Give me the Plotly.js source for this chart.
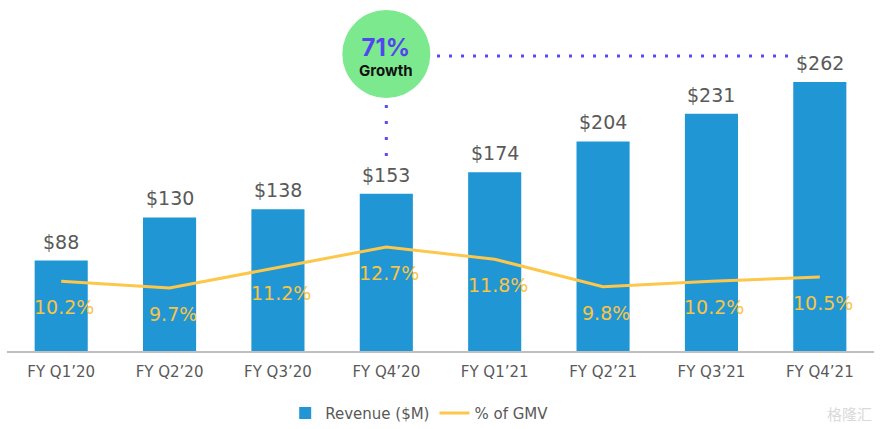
<!DOCTYPE html>
<html>
<head>
<meta charset="utf-8">
<script src="https://cdn.plot.ly/plotly-3.0.1.min.js"></script>
<style>html,body{margin:0;padding:0;background:#fff;}#chart{width:882px;height:429px;}</style>
</head>
<body>
<div id="chart"></div>
<script>
const categories = ["FY Q1\u201920","FY Q2\u201920","FY Q3\u201920","FY Q4\u201920","FY Q1\u201921","FY Q2\u201921","FY Q3\u201921","FY Q4\u201921"];
const revenue = [88, 130, 138, 153, 174, 204, 231, 262];
const revenueLabels = ["$88","$130","$138","$153","$174","$204","$231","$262"];
const gmvPct = [10.2, 9.7, 11.2, 12.7, 11.8, 9.8, 10.2, 10.5];
const gmvLabels = ["10.2%","9.7%","11.2%","12.7%","11.8%","9.8%","10.2%","10.5%"];
const growthText = "71%";
const growthSub = "Growth";

const idx = categories.map((c,i)=>i);

const traces = [
  {
    type: 'bar', name: 'Revenue ($M)', x: idx, y: revenue,
    marker: {color: '#2196d4'}, width: 0.49, hoverinfo: 'skip'
  },
  {
    type: 'scatter', mode: 'lines', name: '% of GMV', x: idx, y: gmvPct, yaxis: 'y2',
    line: {color: '#fcc74b', width: 3}, hoverinfo: 'skip'
  }
];

const annotations = [];
idx.forEach(i => {
  annotations.push({
    x: i, y: revenue[i], xref: 'x', yref: 'y', text: revenueLabels[i], showarrow: false,
    yanchor: 'bottom', yshift: 6, font: {family: 'DejaVu Sans', size: 19, color: '#595959'}
  });
  annotations.push({
    x: i, y: gmvPct[i], xref: 'x', yref: 'y2', text: gmvLabels[i], showarrow: false,
    yanchor: 'middle', yshift: -26, xshift: 3, font: {family: 'DejaVu Sans', size: 19, color: '#f8c446'}
  });
});
annotations.push({
  x: 3, y: (351-57)/341, xref: 'x', yref: 'paper', yanchor: 'middle',
  text: '<b><span style="font-size:24px;color:#5245ef">' + growthText + '</span><br>' + growthSub + '</b>',
  showarrow: false,
  font: {family: 'Inter', size: 15, color: '#111111'}
});
annotations.push({
  x: 1, y: -62/341, xref: 'paper', yref: 'paper', xanchor: 'right', yanchor: 'middle',
  xshift: 0, text: '\u683C\u9686\u6C47', showarrow: false,
  font: {family: 'Noto Sans CJK SC', size: 15, color: '#dadada'}
});

const shapes = [
  { type: 'line', xref: 'paper', yref: 'paper', x0: (437-7)/867, x1: (789-7)/867, y0: (351-56)/341, y1: (351-56)/341,
    line: {color: '#5a4cf2', width: 3, dash: '3px,9px'} },
  { type: 'line', xref: 'x', yref: 'paper', x0: 3, x1: 3,
    y0: (351-156)/341, y1: (351-105)/341,
    line: {color: '#5a4cf2', width: 3, dash: '3px,13px'} },
  { type: 'circle', xref: 'x', yref: 'paper', xsizemode: 'pixel', xanchor: 3, x0: -44, x1: 44,
    ysizemode: 'pixel', yanchor: (351-54)/341, y0: -44, y1: 44,
    fillcolor: '#7de98f', line: {width: 0}, layer: 'above' }
];

const layout = {
  width: 882, height: 429,
  margin: {l: 7, r: 8, t: 10, b: 78},
  paper_bgcolor: '#ffffff', plot_bgcolor: '#ffffff',
  font: {family: 'DejaVu Sans', color: '#595959'},
  showlegend: true,
  legend: {orientation: 'h', x: 0.476, xanchor: 'center', yref: 'container', y: 0.037, yanchor: 'middle',
    font: {family: 'DejaVu Sans', size: 15, color: '#595959'}, itemwidth: 30, tracegroupgap: 0},
  xaxis: {
    range: [-0.5, 7.5], tickmode: 'array', tickvals: idx, ticktext: categories,
    showgrid: false, zeroline: false, showline: true, linecolor: '#bfbfbf', linewidth: 2,
    ticks: '', ticklabelstandoff: 6, tickfont: {family: 'DejaVu Sans', size: 15, color: '#595959'}, fixedrange: true
  },
  yaxis: {range: [0, 332], showgrid: false, zeroline: false, showticklabels: false, showline: false, fixedrange: true},
  yaxis2: {range: [5.09, 30.04], overlaying: 'y', side: 'right', showgrid: false, zeroline: false,
    showticklabels: false, showline: false, fixedrange: true},
  annotations: annotations,
  shapes: shapes
};

Plotly.newPlot('chart', traces, layout, {displayModeBar: false, staticPlot: true});
</script>
</body>
</html>
